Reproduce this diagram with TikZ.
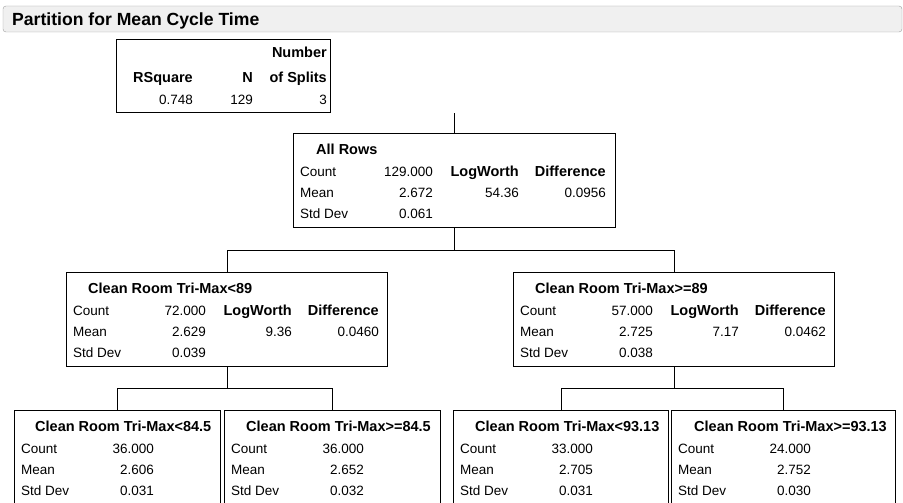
\documentclass[tikz,border=0pt]{standalone}
\usepackage{fontspec}
\setmainfont{Liberation Sans}
\usetikzlibrary{calc,positioning}

\definecolor{barfill}{HTML}{F0F0F0}
\definecolor{barline}{HTML}{A0A0A0}

\tikzset{
	box/.style={draw, line width=1.1pt, anchor=north west, inner sep=0pt, minimum width=#1, minimum height=94},
	txt/.style={inner sep=0pt, font=\fontsize{13.5}{16}\selectfont},
	lbl/.style={txt, anchor=base west},
	num/.style={txt, anchor=base east},
	hdr/.style={txt, anchor=base east, font=\fontsize{14.5}{17}\selectfont\bfseries},
	ttl/.style={txt, anchor=base west, font=\fontsize{14.5}{17}\selectfont\bfseries},
	link/.style={line width=0.9pt}
}

% Count / Mean / Std Dev rows, in the frame of the box
\newcommand{\nodestats}[4]{%
	\node[lbl] (#1-l1) at (7,43) {Count};
	\node[num] (#1-v1) at (140,43) {#2};
	\node[lbl] (#1-l2) at (7,64) {Mean};
	\node[num] (#1-v2) at (140,64) {#3};
	\node[lbl] (#1-l3) at (7,85) {Std Dev};
	\node[num] (#1-v3) at (140,85) {#4};
}
% LogWorth / Difference columns of a box that is split further
\newcommand{\splitstats}[3]{%
	\node[hdr] (#1-h1) at (226,43) {LogWorth};
	\node[hdr] (#1-h2) at (313,43) {Difference};
	\node[num] (#1-w) at (226,64) {#2};
	\node[num] (#1-d) at (313,64) {#3};
}

\begin{document}
\begin{tikzpicture}[x=1pt,y=-1pt]
		\useasboundingbox (0,0) rectangle (903,503);
		\fill[white] (0,0) rectangle (903,503);
		\clip (0,0) rectangle (903,503);

		% Header bar
		\draw[barline, fill=barfill, rounded corners=3pt] (3,6) rectangle (902,32);
		\node[ttl, font=\fontsize{17.6}{20}\selectfont\bfseries] (head) at (12,26) {Partition for Mean Cycle Time};

		% Summary table
		\node[box=214, minimum height=73] (summary) at (116,39) {};
		\begin{scope}[shift={(summary.north west)}]
			\node[hdr] (sum-h0) at (211,19) {Number};
			\node[hdr] (sum-h1) at (77,43) {RSquare};
			\node[hdr] (sum-h2) at (137,43) {N};
			\node[hdr] (sum-h3) at (211,43) {of Splits};
			\node[num] (sum-v1) at (77,65) {0.748};
			\node[num] (sum-v2) at (137,65) {129};
			\node[num] (sum-v3) at (211,65) {3};
		\end{scope}

		% All rows
		\node[box=322] (root) at (293,133) {};
		\begin{scope}[shift={(root.north west)}]
			\node[ttl] (root-t) at (23,21) {All Rows};
			\nodestats{root}{129.000}{2.672}{0.061}
			\splitstats{root}{54.36}{0.0956}
		\end{scope}

		% First split
		\node[box=321] (lo) at (66,272) {};
		\begin{scope}[shift={(lo.north west)}]
			\node[ttl] (lo-t) at (22,21) {Clean Room Tri-Max<89};
			\nodestats{lo}{72.000}{2.629}{0.039}
			\splitstats{lo}{9.36}{0.0460}
		\end{scope}
		\node[box=321] (hi) at (513,272) {};
		\begin{scope}[shift={(hi.north west)}]
			\node[ttl] (hi-t) at (22,21) {Clean Room Tri-Max>=89};
			\nodestats{hi}{57.000}{2.725}{0.038}
			\splitstats{hi}{7.17}{0.0462}
		\end{scope}

		% Leaves
		\node[box=206, minimum height=100] (lolo) at (14,410) {};
		\begin{scope}[shift={(lolo.north west)}]
			\node[ttl] (lolo-t) at (21,21) {Clean Room Tri-Max<84.5};
			\nodestats{lolo}{36.000}{2.606}{0.031}
		\end{scope}
		\node[box=216, minimum height=100] (lohi) at (224,410) {};
		\begin{scope}[shift={(lohi.north west)}]
			\node[ttl] (lohi-t) at (22,21) {Clean Room Tri-Max>=84.5};
			\nodestats{lohi}{36.000}{2.652}{0.032}
		\end{scope}
		\node[box=215, minimum height=100] (hilo) at (453,410) {};
		\begin{scope}[shift={(hilo.north west)}]
			\node[ttl] (hilo-t) at (22,21) {Clean Room Tri-Max<93.13};
			\nodestats{hilo}{33.000}{2.705}{0.031}
		\end{scope}
		\node[box=224, minimum height=100] (hihi) at (671,410) {};
		\begin{scope}[shift={(hihi.north west)}]
			\node[ttl] (hihi-t) at (23,21) {Clean Room Tri-Max>=93.13};
			\nodestats{hihi}{24.000}{2.752}{0.030}
		\end{scope}

		% Tree lines
		\coordinate (stub) at (root.north |- summary.south);
		\draw[link] (root.north) -- (stub);
		\draw[link] (root.south) |- ($(root.south)!.5!(lo.north)$) -| (lo.north);
		\draw[link] (root.south) |- ($(root.south)!.5!(hi.north)$) -| (hi.north);
		\draw[link] (lo.south) |- ($(lo.south)!.5!(lolo.north)$) -| (lolo.north);
		\draw[link] (lo.south) |- ($(lo.south)!.5!(lohi.north)$) -| (lohi.north);
		\draw[link] (hi.south) |- ($(hi.south)!.5!(hilo.north)$) -| (hilo.north);
		\draw[link] (hi.south) |- ($(hi.south)!.5!(hihi.north)$) -| (hihi.north);
	\end{tikzpicture}
\end{document}
